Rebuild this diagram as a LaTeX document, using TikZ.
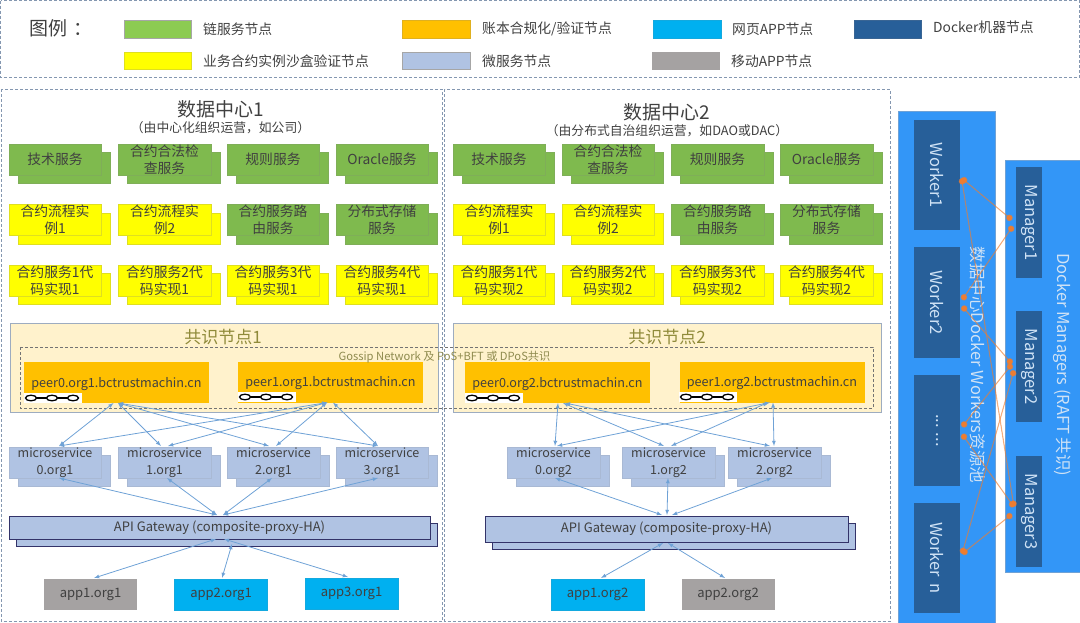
\documentclass[tikz,border=0pt]{standalone}
\usepackage{fontspec}
\setmainfont{Noto Sans CJK SC}
\usetikzlibrary{arrows, shadows}
\definecolor{txt}{HTML}{404040}
\definecolor{grn}{HTML}{7FBA4E}
\definecolor{lgrn}{HTML}{8CCB52}
\definecolor{ylw}{HTML}{FFFF00}
\definecolor{org}{HTML}{FFC000}
\definecolor{msv}{HTML}{B0C3E3}
\definecolor{cyn}{HTML}{00B0F0}
\definecolor{gry}{HTML}{A5A2A2}
\definecolor{pool}{HTML}{3396F7}
\definecolor{dock}{HTML}{275F99}
\definecolor{lbl}{HTML}{CFE2F5}
\definecolor{edge}{HTML}{8497B0}
\definecolor{lnk}{HTML}{6FA2D6}
\definecolor{dlk}{HTML}{ED7D31}
\tikzset{
  sz/.style 2 args={minimum width=#1, minimum height=#2, inner sep=0pt, outer sep=0pt, align=center, text=txt},
  stk/.style={sz={92.5pt}{31pt}, font=\fontsize{13.8}{17}\selectfont, copy shadow={shadow xshift=9pt, shadow yshift=-8.5pt}},
  gsv/.style={stk, fill=grn, draw=grn!80!gray},
  ysv/.style={stk, fill=ylw, draw=ylw!75!gray},
  msn/.style={stk, fill=msv, draw=msv!85!gray, font=\fontsize{12.5}{17}\selectfont},
  gwn/.style={fill=msv, draw=black!65!blue!60!gray, line width=.8pt, font=\fontsize{13}{16}\selectfont, text=txt, inner sep=0pt, outer sep=0pt, copy shadow={shadow xshift=7pt, shadow yshift=-7.5pt}},
  pr/.style={sz={185pt}{41pt}, fill=org, font=\fontsize{12.6}{16}\selectfont, text height=12pt, text depth=3pt},
  app/.style={sz={93pt}{31pt}, font=\fontsize{13}{16}\selectfont},
  lgd/.style={sz={67.5pt}{17.5pt}, line width=.7pt},
  ltx/.style={font=\fontsize{13.8}{17}\selectfont, text=txt, anchor=west, inner sep=0pt},
  zone/.style={draw=edge, densely dashed, line width=.7pt},
  cns/.style={fill=org!20!white, draw=edge!80!white, line width=1pt},
  dck/.style={fill=dock, text=lbl, font=\fontsize{16.5}{18}\selectfont, inner sep=0pt, outer sep=0pt},
  pl/.style={fill=pool, draw=lnk, line width=.6pt},
  ttl/.style={text=lbl, font=\fontsize{16.5}{18}\selectfont, rotate=-90, inner sep=0pt},
  lk/.style={draw=lnk, line width=.8pt, <->, >=latex},
  dl/.style={draw=dlk, fill=dlk, draw opacity=.55, line width=1.1pt, *-*},
  chainicon/.pic={
    \fill[white] (0,0) rectangle (58,10);
    \draw[black, line width=1.4pt] (3,5) -- (55,5);
    \draw[black, fill=white, line width=1.3pt] (7,5) ellipse (5.5pt and 2.8pt);
    \draw[black, fill=white, line width=1.3pt] (28,5) ellipse (5.5pt and 2.8pt);
    \draw[black, fill=white, line width=1.3pt] (49,5) ellipse (5.5pt and 2.8pt);
  }
}
\begin{document}
\begin{tikzpicture}[x=1pt, y=-1pt]
\useasboundingbox (0,0) rectangle (1080,622);

\draw[zone] (.5,.5) rectangle (1079.5,77);
\node[text=txt, anchor=west, inner sep=0pt, font=\fontsize{19}{22}\selectfont] (lt) at (29,28) {图例\hspace{6pt}：};
\node[lgd, fill=lgrn, draw=gray!70] (l1) at (158,29.5) {};
\node[lgd, fill=ylw, draw=ylw!75!gray] (l2) at (158,61) {};
\node[lgd, fill=org, draw=org!75!gray] (l3) at (436.5,29.5) {};
\node[lgd, fill=msv, draw=gray!70] (l4) at (436.5,61) {};
\node[lgd, fill=cyn, draw=cyn!85!gray] (l5) at (687.5,29.5) {};
\node[lgd, fill=gry, draw=gry] (l6) at (686,61) {};
\node[lgd, fill=dock, draw=dock!80!gray] (l7) at (888,29.5) {};
\node[ltx] (t1) at (203,29) {链服务节点};
\node[ltx] (t2) at (203,61) {业务合约实例沙盒验证节点};
\node[ltx] (t3) at (482,29) {账本合规化/验证节点};
\node[ltx] (t4) at (482,61) {微服务节点};
\node[ltx] (t5) at (732,29) {网页APP节点};
\node[ltx] (t6) at (731,61) {移动APP节点};
\node[ltx] (t7) at (933,27.5) {Docker机器节点};

\draw[zone] (1,89) rectangle (442.5,621);
\draw[zone] (444.5,89) rectangle (890,621);
\node[text=txt, inner sep=0pt, font=\fontsize{19}{22}\selectfont] (d1) at (220.5,109) {数据中心1};
\node[text=txt, inner sep=0pt, font=\fontsize{12.8}{15}\selectfont] (e1) at (220.5,128) {（由中心化组织运营，如公司）};
\node[text=txt, inner sep=0pt, font=\fontsize{19}{22}\selectfont] (d2) at (667,112) {数据中心2};
\node[text=txt, inner sep=0pt, font=\fontsize{12.8}{15}\selectfont] (e2) at (667,131) {（由分布式自治组织运营，如DAO或DAC）};

\node[gsv] (a1) at (55,159.5) {技术服务};
\node[gsv] (a2) at (164.5,159.5) {合约合法检\\查服务};
\node[gsv] (a3) at (273,159.5) {规则服务};
\node[gsv] (a4) at (382,159.5) {Oracle服务};
\node[ysv] (b1) at (55,220) {合约流程实\\例1};
\node[ysv] (b2) at (164.5,220) {合约流程实\\例2};
\node[gsv] (b3) at (273,220) {合约服务路\\由服务};
\node[gsv] (b4) at (382,220) {分布式存储\\服务};
\node[ysv] (c1) at (55,280.5) {合约服务1代\\码实现1};
\node[ysv] (c2) at (164.5,280.5) {合约服务2代\\码实现1};
\node[ysv] (c3) at (273,280.5) {合约服务3代\\码实现1};
\node[ysv] (c4) at (382,280.5) {合约服务4代\\码实现1};

\node[gsv] (f1) at (499,159.5) {技术服务};
\node[gsv] (f2) at (608,159.5) {合约合法检\\查服务};
\node[gsv] (f3) at (717.5,159.5) {规则服务};
\node[gsv] (f4) at (826.5,159.5) {Oracle服务};
\node[ysv] (h1) at (499,220) {合约流程实\\例1};
\node[ysv] (h2) at (608,220) {合约流程实\\例2};
\node[gsv] (h3) at (717.5,220) {合约服务路\\由服务};
\node[gsv] (h4) at (826.5,220) {分布式存储\\服务};
\node[ysv] (k1) at (499,280.5) {合约服务1代\\码实现2};
\node[ysv] (k2) at (608,280.5) {合约服务2代\\码实现2};
\node[ysv] (k3) at (717.5,280.5) {合约服务3代\\码实现2};
\node[ysv] (k4) at (826.5,280.5) {合约服务4代\\码实现2};

\draw[cns] (10,323) rectangle (438,412);
\draw[cns] (453,323) rectangle (881,412);
\node[text=olive!60!gray, inner sep=0pt, font=\fontsize{17}{20}\selectfont] (n1) at (223,337) {共识节点1};
\node[text=olive!60!gray, inner sep=0pt, font=\fontsize{17}{20}\selectfont] (n2) at (667,337) {共识节点2};
\draw[draw=black!55, densely dashed, line width=.5pt] (20,347) rectangle (873,408);

\node[pr] (p1) at (116.5,382.5) {peer0.org1.bctrustmachin.cn};
\node[pr] (p2) at (330.5,382) {peer1.org1.bctrustmachin.cn};
\node[pr] (p3) at (557.5,382.5) {peer0.org2.bctrustmachin.cn};
\node[pr] (p4) at (772,382) {peer1.org2.bctrustmachin.cn};
\node[text=olive!45!gray, inner sep=0pt, font=\fontsize{11.2}{12}\selectfont] (gn) at (444.5,357) {Gossip Network 及 PoS+BFT 或 DPoS共识};
\pic at (24,393) {chainicon};
\pic at (238,392) {chainicon};
\pic at (465,393) {chainicon};
\pic at (679,392) {chainicon};

\node[msn] (m1) at (55,462.5) {microservice\\0.org1};
\node[msn] (m2) at (164.5,462.5) {microservice\\1.org1};
\node[msn] (m3) at (273.5,462.5) {microservice\\2.org1};
\node[msn] (m4) at (382,462.5) {microservice\\3.org1};
\node[msn] (m5) at (553.5,462.5) {microservice\\0.org2};
\node[msn] (m6) at (668.5,462.5) {microservice\\1.org2};
\node[msn] (m7) at (774.5,462.5) {microservice\\2.org2};

\node[gwn, minimum width=421pt, minimum height=23pt] (g1) at (219.5,527.5) {API Gateway (composite-proxy-HA)};
\node[gwn, minimum width=363pt, minimum height=26pt] (g2) at (666.5,529) {API Gateway (composite-proxy-HA)};

\node[app, fill=gry] (s1) at (90.5,594.5) {app1.org1};
\node[app, fill=cyn, draw=cyn!85!gray] (s2) at (221,594.5) {app2.org1};
\node[app, fill=cyn, draw=cyn!85!gray] (s3) at (351.5,593.5) {app3.org1};
\node[app, fill=cyn, draw=cyn!85!gray] (s4) at (597.5,594.5) {app1.org2};
\node[app, fill=gry] (s5) at (728,594.5) {app2.org2};

\draw[lk] ([xshift=-3pt]p1.south) -- ([xshift=4pt,yshift=1pt]m1.north);
\draw[lk] ([xshift=-3pt]p2.south) -- ([xshift=4pt,yshift=1pt]m1.north);
\draw[lk] ([xshift=1.5pt]p1.south) -- ([xshift=-3.5pt,yshift=1pt]m2.north);
\draw[lk] ([xshift=-3.5pt]p2.south) -- ([xshift=3.5pt,yshift=1pt]m2.north);
\draw[lk] ([xshift=1.5pt]p1.south) -- ([xshift=-4.5pt,yshift=1pt]m3.north);
\draw[lk] ([xshift=-3.5pt]p2.south) -- ([xshift=2.5pt,yshift=1pt]m3.north);
\draw[lk] ([xshift=1.5pt]p1.south) -- ([xshift=-4pt,yshift=1pt]m4.north);
\draw[lk] ([xshift=2.5pt]p2.south) -- ([xshift=-4pt,yshift=1pt]m4.north);

\draw[lk] ([xshift=.5pt]p3.south) -- ([xshift=1.5pt,yshift=1pt]m5.north);
\draw[lk] ([xshift=-2pt]p4.south) -- ([xshift=3.5pt,yshift=1pt]m5.north);
\draw[lk] ([xshift=5.5pt]p3.south) -- ([xshift=-4.5pt,yshift=1pt]m6.north);
\draw[lk] ([xshift=-4pt]p4.south) -- ([xshift=2.5pt,yshift=1pt]m6.north);
\draw[lk] ([xshift=7.5pt]p3.south) -- ([xshift=-4.5pt,yshift=1pt]m7.north);
\draw[lk] ([xshift=1pt]p4.south) -- ([xshift=-.5pt,yshift=1pt]m7.north);

\draw[lk] ([xshift=4pt]m1.south) -- ([xshift=-2.5pt,yshift=1pt]g1.north);
\draw[lk] ([xshift=2.5pt]m2.south) -- ([xshift=-2.5pt,yshift=1pt]g1.north);
\draw[lk] ([xshift=-1.5pt]m3.south) -- ([xshift=3.5pt,yshift=1pt]g1.north);
\draw[lk] ([xshift=-4pt]m4.south) -- ([xshift=3.5pt,yshift=1pt]g1.north);
\draw[lk] ([xshift=1.5pt]m5.south) -- ([xshift=-4.5pt,yshift=1pt]g2.north);
\draw[lk] ([xshift=-.5pt]m6.south) -- ([xshift=.5pt,yshift=1pt]g2.north);
\draw[lk] ([xshift=-2.5pt]m7.south) -- ([xshift=5.5pt,yshift=1pt]g2.north);

\draw[lk] ([xshift=-3.5pt]g1.south) -- ([xshift=3.5pt,yshift=1pt]s1.north);
\draw[lk] ([xshift=12.5pt,yshift=-5pt]g1.south) -- ([xshift=1pt,yshift=1pt]s2.north);
\draw[lk] ([xshift=4.5pt]g1.south) -- ([xshift=-3.5pt,yshift=1pt]s3.north);
\draw[lk] ([xshift=-3.5pt,yshift=-1pt]g2.south) -- ([xshift=3.5pt,yshift=1pt]s4.north);
\draw[lk] ([xshift=1.5pt,yshift=-1pt]g2.south) -- ([xshift=-3pt,yshift=1pt]s5.north);

\draw[pl] (898,111) rectangle (995,625);
\draw[pl] (1005,160) rectangle (1083,572);
\node[dck, minimum width=46pt, minimum height=110pt] (w1) at (937,175) {\rotatebox{-90}{Worker1}};
\node[dck, minimum width=46pt, minimum height=111pt] (w2) at (937,302.5) {\rotatebox{-90}{Worker2}};
\node[dck, minimum width=46pt, minimum height=111pt] (w3) at (937,430.5) {\rotatebox{-90}{... ...}};
\node[dck, minimum width=46pt, minimum height=110pt] (w4) at (937,558) {\rotatebox{-90}{Worker\hspace{3pt} n}};
\node[dck, minimum width=26pt, minimum height=111pt] (v1) at (1029,222.5) {\rotatebox{-90}{Manager1}};
\node[dck, minimum width=26pt, minimum height=111pt] (v2) at (1029,366.5) {\rotatebox{-90}{Manager2}};
\node[dck, minimum width=26pt, minimum height=111pt] (v3) at (1029,511.5) {\rotatebox{-90}{Manager3}};
\node[ttl] (q1) at (978,365) {数据中心Docker Workers资源池};
\node[ttl] (q2) at (1062,365) {Docker Managers (RAFT 共识)};

\draw[dl] ([xshift=1.5pt,yshift=-3pt]w1.east) -- ([xshift=-4pt,yshift=2.5pt]v1.west);
\draw[dl] ([xshift=1.5pt,yshift=-3pt]w1.east) -- ([xshift=-2pt,yshift=4.5pt]v3.west);
\draw[dl] ([xshift=2pt,yshift=2.5pt]w2.east) -- ([xshift=-3pt,yshift=-3.5pt]v1.west);
\draw[dl] ([xshift=2pt,yshift=-3.5pt]w2.east) -- ([xshift=-4pt,yshift=2.5pt]v2.west);
\draw[dl] ([xshift=2pt,yshift=3.5pt]w3.east) -- ([xshift=-4pt,yshift=2.5pt]v2.west);
\draw[dl] ([xshift=2pt,yshift=-3.5pt]w3.east) -- ([xshift=-2pt,yshift=4.5pt]v3.west);
\draw[dl] ([xshift=2pt,yshift=4pt]w4.east) -- ([xshift=-4pt,yshift=-2.5pt]v3.west);
\draw[dl] ([xshift=2pt,yshift=4pt]w4.east) -- ([xshift=-2pt,yshift=-3.5pt]v2.west);
\end{tikzpicture}
\end{document}
